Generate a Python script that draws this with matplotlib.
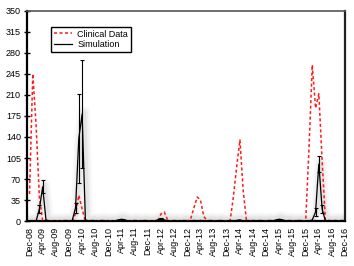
import numpy as np
import matplotlib.pyplot as plt

plt.rcParams['font.family'] = ['Liberation Sans', 'DejaVu Sans']

# months from Dec-08 (index 0) to Dec-16 (index 96)
tick_labels = []
names = ['Dec', 'Apr', 'Aug']
for i in range(25):
    yr = 8 + (i + 2) // 3
    if i % 3 == 0:
        yr = 8 + i // 3
    tick_labels.append(names[i % 3] + '-%02d' % yr)
tick_pos = np.arange(0, 97, 4)

n_months = 97

# clinical data (non-zero months only, rest are 0)
clinical_nz = {
    0: 45, 1: 245, 2: 160, 3: 40,
    14: 12, 15: 43, 16: 20,
    40: 12, 41: 15, 42: 2,
    49: 3, 50: 22, 51: 40, 52: 35, 53: 8,
    62: 40, 63: 90, 64: 135, 65: 50,
    85: 120, 86: 260, 87: 188, 88: 212, 89: 100,
}

# simulation mean and error (non-zero months only)
sim_nz = {
    3: 20, 4: 57, 5: 2,
    11: 1, 13: 1, 14: 22, 15: 138, 16: 178, 17: 2,
    19: 1, 22: 1, 27: 2, 28: 3, 29: 2, 32: 1, 35: 1,
    39: 2, 40: 4, 41: 2, 44: 1, 47: 1, 50: 1, 52: 1, 55: 1, 58: 1,
    61: 1, 63: 1, 64: 2, 66: 1, 68: 1, 70: 1, 73: 1, 75: 2, 76: 3, 77: 2,
    79: 1, 82: 1, 86: 2, 87: 15, 88: 95, 89: 20,
    91: 1, 93: 1, 95: 1,
}
sim_err_nz = {
    3: 6, 4: 11, 14: 8, 15: 74, 16: 90, 87: 6, 88: 13, 89: 6,
    28: 1, 40: 1, 76: 1,
}

months = np.arange(n_months)
clinical = np.array([clinical_nz.get(m, 0) for m in months], float)
sim = np.array([sim_nz.get(m, 0) for m in months], float)
sim_err = np.array([sim_err_nz.get(m, 0) for m in months], float)

fig = plt.figure(figsize=(3.54, 2.66), dpi=100)
ax = fig.add_axes([0.075, 0.169, 0.9, 0.79])

# soft grey shadow under the simulation curve
for lw, a in [(9, 0.05), (6, 0.07), (3.5, 0.09)]:
    ax.plot(months + 0.5, sim + 3, color='gray', lw=lw, alpha=a,
            solid_capstyle='round', zorder=1)

ax.plot(months, clinical, color='#ff1a1a', lw=1.1, ls=(0, (2, 1.6)),
        label='Clinical Data', zorder=3)
ax.plot(months, sim, color='black', lw=0.9, label='Simulation', zorder=4)

mask = sim_err > 0
ax.errorbar(months[mask], sim[mask], yerr=sim_err[mask], fmt='none',
            ecolor='black', elinewidth=0.8, capsize=1.5, capthick=0.8, zorder=4)
small = (sim > 0) & ~mask
ax.plot(months[small], sim[small], ls='none', marker='_', ms=3, mew=0.8,
        color='black', zorder=4)

ax.set_xlim(-0.9, 96)
ax.set_ylim(0, 350)
ax.set_yticks(np.arange(0, 351, 35))
ax.set_xticks(tick_pos)
ax.set_xticklabels(tick_labels, rotation=90, fontsize=6.5)
ax.tick_params(axis='y', labelsize=6.5, direction='inout', length=4, width=1, pad=2)
ax.tick_params(axis='x', direction='in', length=0, pad=4)

for s in ['left', 'bottom']:
    ax.spines[s].set_linewidth(1.6)
    ax.spines[s].set_color('black')
ax.spines['right'].set_linewidth(1.6)
ax.spines['right'].set_color('#222222')
ax.spines['top'].set_linewidth(1.2)
ax.spines['top'].set_color('#555555')

leg = ax.legend(loc='upper left', bbox_to_anchor=(0.077, 0.924), fontsize=6.5,
                fancybox=False, framealpha=1, edgecolor='black',
                handlelength=2.0, borderpad=0.3, labelspacing=0.15,
                handletextpad=0.6, borderaxespad=0)
leg.get_frame().set_linewidth(1.0)

fig.savefig('out.png', dpi=100)
